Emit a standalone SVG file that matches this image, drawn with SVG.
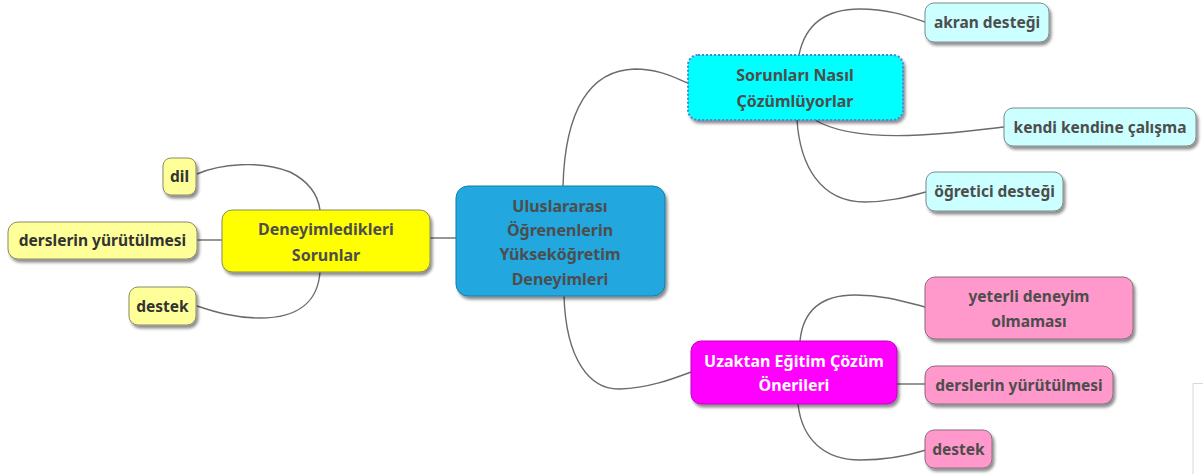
<svg xmlns="http://www.w3.org/2000/svg" width="1203" height="474" viewBox="0 0 1203 474">
<defs>
<filter id="sh" x="-10%" y="-10%" width="130%" height="140%">
<feDropShadow dx="2" dy="3" stdDeviation="1.5" flood-color="#000" flood-opacity="0.45"/>
</filter>
</defs>
<style>
text{font-family:"Noto Sans","Open Sans","DejaVu Sans",sans-serif;font-weight:bold;text-anchor:middle}
.c{fill:none;stroke:#6b6b6b;stroke-width:1.4}
.t{font-size:16px;fill:#4d4d4d}
.l{font-size:15.5px;fill:#333}
.g{fill:#4d4d4d}
.w{fill:#fff}
.box{filter:url(#sh)}
</style>
<rect width="1203" height="474" fill="#fff"/>
<path d="M1193,474 V383.5 H1203" fill="none" stroke="#d8d8d8" stroke-width="1"/>
<g id="connectors">
<path class="c" d="M563,186 C565,110 590,70 635,69 C660,69 675,78 688,83"/>
<path class="c" d="M564,296 C566,360 590,390 620,389 C650,388 675,378 691,372"/>
<path class="c" d="M456,238 H430"/>
<path class="c" d="M197,174 C220,164 260,160 290,172 C310,182 318,196 320,210"/>
<path class="c" d="M222,240 H197"/>
<path class="c" d="M320,272 C318,300 300,318 260,318 C235,318 215,312 197,306"/>
<path class="c" d="M799,55 C805,25 825,9 860,9 C890,9 910,17 925,22"/>
<path class="c" d="M815,120 C840,135 880,137 920,135 C960,133 985,129 1004,127"/>
<path class="c" d="M797,120 C800,165 820,202 865,202 C890,202 910,196 926,192"/>
<path class="c" d="M800,341 C803,310 822,295 855,295 C885,295 905,302 925,307"/>
<path class="c" d="M897,384 H925"/>
<path class="c" d="M798,404 C802,440 825,460 860,460 C890,460 910,455 926,450"/>
</g>
<g id="center">
<rect class="box" x="456" y="186" width="209" height="110" rx="12" fill="#22a7df" stroke="#1a7fa8" stroke-width="1"/>
<text class="t" x="560" y="212">Uluslararası</text>
<text class="t" x="560" y="236">Öğrenenlerin</text>
<text class="t" x="560" y="260">Yükseköğretim</text>
<text class="t" x="560" y="285">Deneyimleri</text>
</g>
<g id="sorunlar-nasil">
<rect class="box" x="688" y="55" width="215" height="65" rx="10" fill="#00ffff" stroke="#3f88d8" stroke-width="2" stroke-dasharray="2 2"/>
<text class="t" x="795" y="81">Sorunları Nasıl</text>
<text class="t" x="795" y="107">Çözümlüyorlar</text>
</g>
<g id="uzaktan">
<rect class="box" x="691" y="341" width="206" height="63" rx="10" fill="#ff00ff" stroke="#c000c0" stroke-width="1"/>
<text class="t w" x="794" y="367">Uzaktan Eğitim Çözüm</text>
<text class="t w" x="794" y="391">Önerileri</text>
</g>
<g id="deneyimledikleri">
<rect class="box" x="222" y="210" width="208" height="62" rx="10" fill="#ffff00" stroke="#8a8a5a" stroke-width="1"/>
<text class="t" x="326" y="235">Deneyimledikleri</text>
<text class="t" x="326" y="261">Sorunlar</text>
</g>
<g id="dil">
<rect class="box" x="163" y="158" width="33" height="37" rx="8" fill="#ffff99" stroke="#8a8a6a" stroke-width="1"/>
<text class="l" x="179.5" y="182">dil</text>
</g>
<g id="derslerin-l">
<rect class="box" x="8" y="222" width="189" height="37" rx="10" fill="#ffff99" stroke="#8a8a6a" stroke-width="1"/>
<text class="l" x="102.5" y="246">derslerin yürütülmesi</text>
</g>
<g id="destek-l">
<rect class="box" x="129" y="287" width="67" height="38" rx="9" fill="#ffff99" stroke="#8a8a6a" stroke-width="1"/>
<text class="l" x="162.5" y="312">destek</text>
</g>
<g id="akran">
<rect class="box" x="925" y="3" width="124" height="39" rx="9" fill="#ccffff" stroke="#7a8a8a" stroke-width="1"/>
<text class="l g" x="987" y="28">akran desteği</text>
</g>
<g id="kendi">
<rect class="box" x="1004" y="108" width="192" height="38" rx="9" fill="#ccffff" stroke="#7a8a8a" stroke-width="1"/>
<text class="l g" x="1100" y="133">kendi kendine çalışma</text>
</g>
<g id="ogretici">
<rect class="box" x="926" y="172" width="137" height="39" rx="9" fill="#ccffff" stroke="#7a8a8a" stroke-width="1"/>
<text class="l g" x="994.5" y="197">öğretici desteği</text>
</g>
<g id="yeterli">
<rect class="box" x="925" y="277" width="208" height="62" rx="10" fill="#ff99cc" stroke="#8a6a7a" stroke-width="1"/>
<text class="l g" x="1029" y="302">yeterli deneyim</text>
<text class="l g" x="1029" y="327">olmaması</text>
</g>
<g id="derslerin-r">
<rect class="box" x="925" y="366" width="188" height="38" rx="10" fill="#ff99cc" stroke="#8a6a7a" stroke-width="1"/>
<text class="l g" x="1019" y="391">derslerin yürütülmesi</text>
</g>
<g id="destek-r">
<rect class="box" x="925" y="430" width="67" height="38" rx="9" fill="#ff99cc" stroke="#8a6a7a" stroke-width="1"/>
<text class="l g" x="958.5" y="455">destek</text>
</g>
</svg>
